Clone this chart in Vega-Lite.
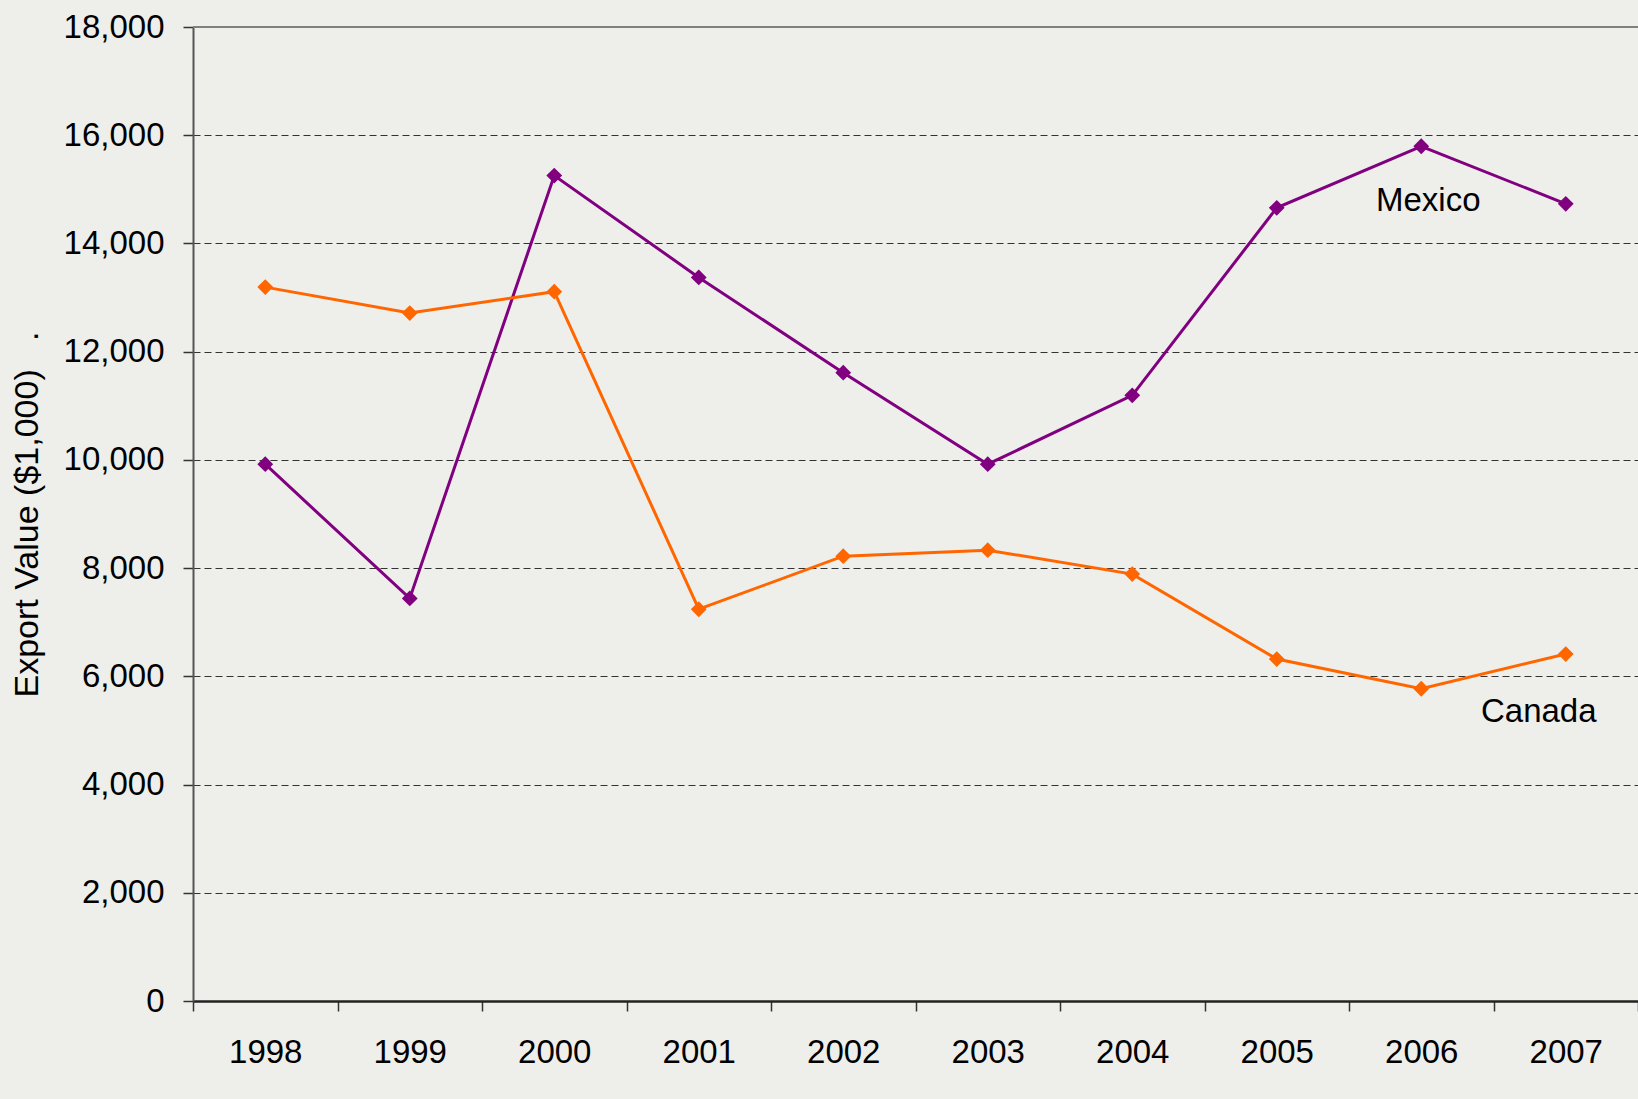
{
  "$schema": "https://vega.github.io/schema/vega-lite/v6.json",
  "width": 1445,
  "height": 974,
  "autosize": "none",
  "padding": {"left": 193, "top": 27, "right": 0, "bottom": 98},
  "background": "#eeeeeb",
  "config": {"font": "Liberation Sans", "view": {"stroke": null}},
  "datasets": {
    "exports": [
      {"year": "1998", "country": "Mexico", "value": 9920},
      {"year": "1999", "country": "Mexico", "value": 7440},
      {"year": "2000", "country": "Mexico", "value": 15255},
      {"year": "2001", "country": "Mexico", "value": 13372},
      {"year": "2002", "country": "Mexico", "value": 11612},
      {"year": "2003", "country": "Mexico", "value": 9920},
      {"year": "2004", "country": "Mexico", "value": 11193},
      {"year": "2005", "country": "Mexico", "value": 14658},
      {"year": "2006", "country": "Mexico", "value": 15796},
      {"year": "2007", "country": "Mexico", "value": 14732},
      {"year": "1998", "country": "Canada", "value": 13193},
      {"year": "1999", "country": "Canada", "value": 12713},
      {"year": "2000", "country": "Canada", "value": 13108},
      {"year": "2001", "country": "Canada", "value": 7240},
      {"year": "2002", "country": "Canada", "value": 8221},
      {"year": "2003", "country": "Canada", "value": 8332},
      {"year": "2004", "country": "Canada", "value": 7889},
      {"year": "2005", "country": "Canada", "value": 6319},
      {"year": "2006", "country": "Canada", "value": 5771},
      {"year": "2007", "country": "Canada", "value": 6412}
    ],
    "labels": [
      {"year": "2006", "label": "Mexico", "value": 14600},
      {"year": "2007", "label": "Canada", "value": 5160}
    ]
  },
  "layer": [
    {
      "data": {"name": "exports"},
      "mark": {"type": "line", "strokeWidth": 3},
      "encoding": {
        "x": {
          "field": "year",
          "type": "ordinal",
          "bandPosition": 0.5,
          "scale": {"type": "band", "paddingInner": 0, "paddingOuter": 0},
          "axis": {
            "title": null,
            "labelAngle": 0,
            "labelFontSize": 33,
            "labelColor": "#000000",
            "labelPadding": 25,
            "tickBand": "extent",
            "tickSize": 10,
            "tickColor": "#333333",
            "tickWidth": 1.5,
            "domainColor": "#222222",
            "domainWidth": 2.5,
            "grid": false
          }
        },
        "y": {
          "field": "value",
          "type": "quantitative",
          "scale": {"domain": [0, 18000], "nice": false},
          "axis": {
            "title": "Export Value ($1,000)\u00a0\u00a0\u00a0.",
            "titleFontSize": 34,
            "titleFontWeight": "normal",
            "titleColor": "#000000",
            "titlePadding": 19,
            "values": [0, 2000, 4000, 6000, 8000, 10000, 12000, 14000, 16000, 18000],
            "labelExpr": "format(datum.value, ',')",
            "labelFontSize": 33,
            "labelColor": "#000000",
            "labelPadding": 19,
            "tickSize": 10,
            "tickColor": "#333333",
            "tickWidth": 1.5,
            "domainColor": "#555555",
            "domainWidth": 2,
            "grid": true,
            "gridColor": "#333333",
            "gridDash": [7, 4],
            "gridWidth": 1
          }
        },
        "color": {
          "field": "country",
          "type": "nominal",
          "scale": {"domain": ["Mexico", "Canada"], "range": ["#800080", "#ff6600"]},
          "legend": null
        }
      }
    },
    {
      "data": {"name": "exports"},
      "mark": {"type": "point", "shape": "diamond", "filled": true, "size": 250, "opacity": 1},
      "encoding": {
        "x": {"field": "year", "type": "ordinal", "bandPosition": 0.5},
        "y": {"field": "value", "type": "quantitative"},
        "color": {"field": "country", "type": "nominal"}
      }
    },
    {
      "data": {"values": [{"top": 18000}]},
      "mark": {"type": "rule", "color": "#808080", "strokeWidth": 2},
      "encoding": {"y": {"field": "top", "type": "quantitative"}}
    },
    {
      "data": {"name": "labels"},
      "transform": [{"filter": "datum.label === 'Mexico'"}],
      "mark": {"type": "text", "fontSize": 33, "align": "center", "baseline": "alphabetic", "fill": "#000000", "dx": 7},
      "encoding": {
        "x": {"field": "year", "type": "ordinal", "bandPosition": 0.5},
        "y": {"field": "value", "type": "quantitative"},
        "text": {"field": "label"}
      }
    },
    {
      "data": {"name": "labels"},
      "transform": [{"filter": "datum.label === 'Canada'"}],
      "mark": {"type": "text", "fontSize": 33, "align": "center", "baseline": "alphabetic", "fill": "#000000", "dx": -27},
      "encoding": {
        "x": {"field": "year", "type": "ordinal", "bandPosition": 0.5},
        "y": {"field": "value", "type": "quantitative"},
        "text": {"field": "label"}
      }
    }
  ]
}
